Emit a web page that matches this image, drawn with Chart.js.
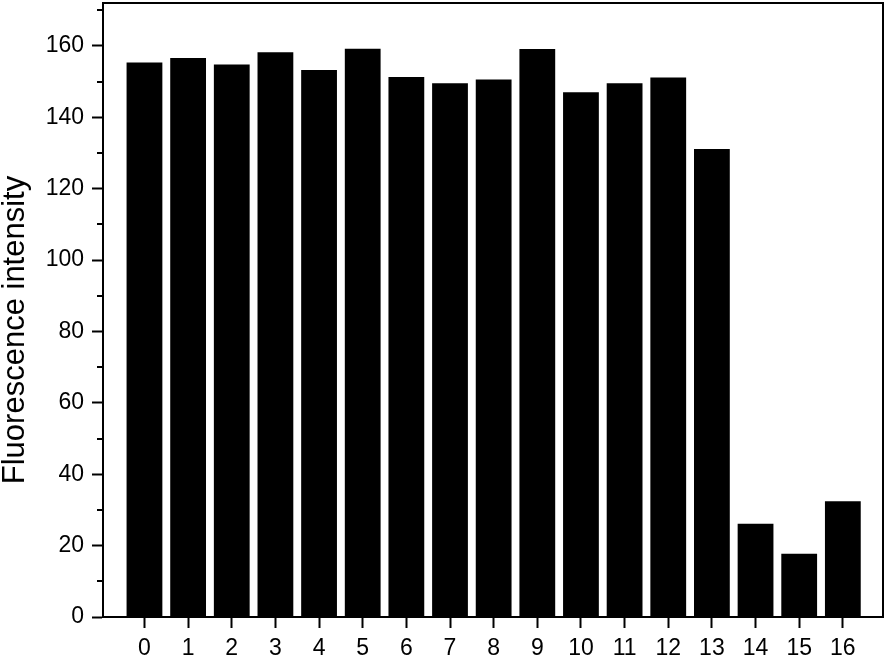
<!DOCTYPE html>
<html>
<head>
<meta charset="utf-8">
<script src="https://cdn.jsdelivr.net/npm/chart.js@4"></script>
<style>
  html, body { margin: 0; padding: 0; background: #fff; }
  #wrap { width: 889px; height: 660px; }
</style>
</head>
<body>
<div id="wrap"><canvas id="chart" width="889" height="660"></canvas></div>
<script>
const categories = ["0", "1", "2", "3", "4", "5", "6", "7", "8", "9", "10", "11", "12", "13", "14", "15", "16"];
const intensity = [155.3, 156.6, 154.8, 158.2, 153.2, 159.2, 151.3, 149.5, 150.6, 159.1, 147.0, 149.5, 151.1, 131.1, 26.1, 17.7, 32.4];
const yMajorTicks = [0, 20, 40, 60, 80, 100, 120, 140, 160];
const yMinorTicks = [10, 30, 50, 70, 90, 110, 130, 150, 170];
const yTitle = "Fluorescence intensity";

const FONT = '"Liberation Sans", Arial, sans-serif';

// frame on top/right, minor ticks on y, rotated axis title
const framePlugin = {
  id: "frame",
  afterDraw(chart) {
    const ctx = chart.ctx;
    const a = chart.chartArea;
    const y = chart.scales.y;
    ctx.save();
    ctx.strokeStyle = "#000";
    ctx.lineWidth = 2;
    ctx.beginPath();
    ctx.moveTo(a.left, a.top);
    ctx.lineTo(a.right, a.top);
    ctx.lineTo(a.right, a.bottom);
    ctx.stroke();

    ctx.beginPath();
    for (const v of yMinorTicks) {
      const py = Math.round(y.getPixelForValue(v));
      ctx.moveTo(a.left - 6, py);
      ctx.lineTo(a.left, py);
    }
    ctx.stroke();

    ctx.translate(24, 330);
    ctx.rotate(-Math.PI / 2);
    ctx.fillStyle = "#000";
    ctx.font = "31px " + FONT;
    ctx.textAlign = "center";
    ctx.textBaseline = "alphabetic";
    ctx.fillText(yTitle, 0, 0);
    ctx.restore();
  }
};

new Chart(document.getElementById("chart"), {
  type: "bar",
  data: {
    datasets: [
      {
        data: intensity.map((v, i) => ({ x: i, y: v })),
        backgroundColor: "#000",
        borderWidth: 0,
        barPercentage: 0.82,
        categoryPercentage: 1.0
      }
    ]
  },
  options: {
    responsive: false,
    animation: false,
    layout: { padding: { top: 3, right: 6, left: 0, bottom: 0 } },
    plugins: { legend: { display: false }, tooltip: { enabled: false } },
    scales: {
      x: {
        type: "linear",
        offset: false,
        min: -0.95,
        max: 16.92,
        afterBuildTicks: (scale) => {
          scale.ticks = categories.map((c, i) => ({ value: i }));
        },
        afterFit: (scale) => {
          scale.height = 43;
          scale.paddingLeft = 0;
          scale.paddingRight = 0;
        },
        grid: { offset: false, drawOnChartArea: false, tickLength: 11, tickWidth: 2, tickColor: "#000" },
        border: { display: true, width: 2, color: "#000" },
        ticks: {
          color: "#000",
          font: { family: FONT, size: 23 },
          padding: 7,
          maxRotation: 0,
          autoSkip: false,
          callback: (v) => categories[v]
        }
      },
      y: {
        min: 0,
        max: 172,
        afterBuildTicks: (scale) => {
          scale.ticks = yMajorTicks.map((v) => ({ value: v }));
        },
        afterFit: (scale) => {
          scale.width = 103;
          scale.paddingTop = 0;
          scale.paddingBottom = 0;
        },
        grid: { drawOnChartArea: false, tickLength: 11, tickWidth: 2, tickColor: "#000" },
        border: { display: true, width: 2, color: "#000" },
        ticks: {
          color: "#000",
          font: { family: FONT, size: 23 },
          padding: 8
        }
      }
    }
  },
  plugins: [framePlugin]
});
</script>
</body>
</html>
